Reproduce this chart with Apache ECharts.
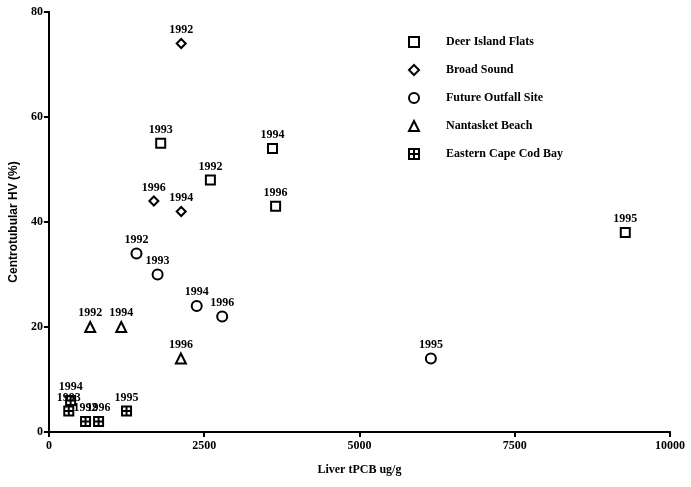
<!DOCTYPE html>
<html lang="en" style="height: 100%">
<head>
<meta charset="utf-8">
<title>Centrotubular HV vs Liver tPCB</title>
</head>
<body style="height: 100%; margin: 0; background: #fff">
<div id="container" style="width: 691px; height: 487px"></div>

<script type="text/javascript" src="https://cdn.jsdelivr.net/npm/echarts@6/dist/echarts.min.js"></script>

<script type="text/javascript">
var dom = document.getElementById('container');
var myChart = echarts.init(dom);

var xTicks = [0, 2500, 5000, 7500, 10000];
var yTicks = [0, 20, 40, 60, 80];

// Deer Island Flats
var deerYears = ['1993', '1994', '1992', '1996', '1995'];
var deerX = [1800, 3600, 2600, 3650, 9280];
var deerY = [55, 54, 48, 43, 38];

// Broad Sound
var broadYears = ['1992', '1996', '1994'];
var broadX = [2130, 1690, 2130];
var broadY = [74, 44, 42];

// Future Outfall Site
var outfallYears = ['1992', '1993', '1994', '1996', '1995'];
var outfallX = [1410, 1750, 2380, 2790, 6150];
var outfallY = [34, 30, 24, 22, 14];

// Nantasket Beach
var nantYears = ['1992', '1994', '1996'];
var nantX = [665, 1165, 2125];
var nantY = [20, 20, 14];

// Eastern Cape Cod Bay
var capeYears = ['1994', '1993', '1992', '1996', '1995'];
var capeX = [350, 320, 590, 800, 1250];
var capeY = [6, 4, 2, 2, 4];

var serifFont = '"Liberation Serif", "DejaVu Serif", serif';
var crossSquare = 'path://M0,0 L10,0 L10,10 L0,10 Z M5,0 L5,10 M0,5 L10,5';

function points(xs, ys, years) {
    return xs.map(function (x, i) {
        return { name: years[i], value: [x, ys[i]] };
    });
}

function makeSeries(name, symbol, size, xs, ys, years) {
    return {
        name: name,
        type: 'scatter',
        symbol: symbol,
        symbolSize: size,
        data: points(xs, ys, years),
        itemStyle: { color: '#fff', borderColor: '#000', borderWidth: 2, opacity: 1 },
        label: {
            show: true,
            position: 'top',
            distance: 2,
            formatter: '{b}',
            color: '#000',
            fontFamily: serifFont,
            fontWeight: 'bold',
            fontSize: 12
        },
        emphasis: { disabled: true }
    };
}

var axisLine = { show: true, lineStyle: { color: '#000', width: 2 } };

option = {
    backgroundColor: '#fff',
    animation: false,
    grid: { left: 45, right: 21, top: 12, bottom: 55, containLabel: false },
    legend: {
        orient: 'vertical',
        left: 403,
        top: 31,
        itemWidth: 10,
        itemHeight: 10,
        itemGap: 16,
        textStyle: {
            color: '#000',
            fontFamily: serifFont,
            fontWeight: 'bold',
            fontSize: 12,
            padding: [0, 0, 0, 22]
        }
    },
    xAxis: [{
        type: 'value',
        min: xTicks[0],
        max: xTicks[xTicks.length - 1],
        interval: 2500,
        name: 'Liver tPCB ug/g',
        nameLocation: 'middle',
        nameGap: 32,
        nameTextStyle: { color: '#000', fontFamily: serifFont, fontWeight: 'bold', fontSize: 12 },
        axisLine: axisLine,
        axisTick: { show: true, length: 5, lineStyle: { color: '#000', width: 2 } },
        axisLabel: {
            color: '#000', fontFamily: serifFont, fontWeight: 'bold', fontSize: 12, margin: 8,
            formatter: function (v) { return String(v); }
        },
        splitLine: { show: false }
    }, {
        type: 'value',
        position: 'top',
        min: xTicks[0],
        max: xTicks[xTicks.length - 1],
        interval: 2500,
        axisLine: axisLine,
        axisTick: { show: false },
        axisLabel: { show: false },
        splitLine: { show: false }
    }],
    yAxis: [{
        type: 'value',
        min: yTicks[0],
        max: yTicks[yTicks.length - 1],
        interval: 20,
        name: 'Centrotubular HV (%)',
        nameLocation: 'middle',
        nameGap: 27,
        nameTextStyle: { color: '#000', fontFamily: '"Liberation Sans", Arial, sans-serif', fontWeight: 'bold', fontSize: 12 },
        axisLine: axisLine,
        axisTick: { show: true, length: 5, lineStyle: { color: '#000', width: 2 } },
        axisLabel: { color: '#000', fontFamily: serifFont, fontWeight: 'bold', fontSize: 12, margin: 6 },
        splitLine: { show: false }
    }, {
        type: 'value',
        position: 'right',
        min: yTicks[0],
        max: yTicks[yTicks.length - 1],
        interval: 20,
        axisLine: axisLine,
        axisTick: { show: false },
        axisLabel: { show: false },
        splitLine: { show: false }
    }],
    series: [
        makeSeries('Deer Island Flats', 'rect', 9, deerX, deerY, deerYears),
        makeSeries('Broad Sound', 'diamond', 9, broadX, broadY, broadYears),
        makeSeries('Future Outfall Site', 'circle', 10, outfallX, outfallY, outfallYears),
        makeSeries('Nantasket Beach', 'triangle', 10, nantX, nantY, nantYears),
        makeSeries('Eastern Cape Cod Bay', crossSquare, 9, capeX, capeY, capeYears)
    ]
};

if (option && typeof option === 'object') {
    myChart.setOption(option);
}

window.addEventListener('resize', myChart.resize);
</script>
</body>
</html>
